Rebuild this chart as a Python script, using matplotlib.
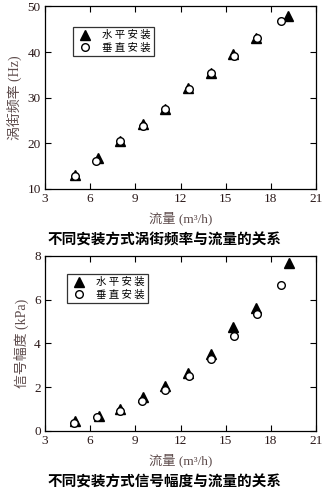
import matplotlib
matplotlib.use("Agg")
import matplotlib.pyplot as plt

plt.rcParams['font.family'] = ['Liberation Serif', 'Noto Sans CJK SC']

# serif for latin text, CJK glyphs fall through to Noto
MIXED = ['Liberation Serif', 'Noto Sans CJK SC']
CJK = ['Noto Sans CJK SC', 'Liberation Serif']
LABEL_COLOR = '#5e4c4c'

# vortex frequency vs flow rate
flow_h_freq = [5.0, 6.55, 8.0, 9.5, 11.0, 12.5, 14.0, 15.5, 17.0, 19.15]
freq_h = [13.0, 16.7, 20.5, 24.3, 27.6, 32.0, 35.3, 39.6, 43.0, 48.0]
flow_v_freq = [5.0, 6.4, 8.0, 9.5, 11.0, 12.55, 14.05, 15.55, 17.05, 18.65]
freq_v = [12.8, 16.2, 20.4, 23.8, 27.4, 31.8, 35.3, 39.1, 43.0, 46.9]

# signal amplitude vs flow rate
flow_h_amp = [5.0, 6.6, 8.0, 9.5, 11.0, 12.5, 14.0, 15.5, 17.0, 19.2]
amp_h = [0.45, 0.69, 1.02, 1.57, 2.05, 2.64, 3.50, 4.76, 5.60, 7.66]
flow_v_amp = [4.95, 6.45, 8.0, 9.45, 10.95, 12.55, 14.05, 15.55, 17.05, 18.7]
amp_v = [0.38, 0.63, 0.93, 1.37, 1.89, 2.49, 3.27, 4.34, 5.34, 6.67]

x_ticks = [3, 6, 9, 12, 15, 18, 21]
legend_labels = ['水 平 安 装', '垂 直 安 装']

fig = plt.figure(figsize=(3.3, 4.93), dpi=100)
ax1 = fig.add_axes([0.136, 0.617, 0.822, 0.370])
ax2 = fig.add_axes([0.136, 0.126, 0.822, 0.355])


def style_axis(ax, ylim, yticks, ylabel):
    ax.set_xlim(3, 21)
    ax.set_ylim(*ylim)
    ax.set_xticks(x_ticks)
    ax.set_yticks(yticks)
    ax.tick_params(direction='in', length=4, width=0.8, top=True, right=True,
                   labelsize=9.5, pad=3, colors='black', labelcolor='#2a1818')
    for s in ax.spines.values():
        s.set_linewidth(0.9)
    ax.set_xlabel('流量 (m³/h)', family=MIXED, fontsize=9.5,
                  color=LABEL_COLOR, labelpad=5)
    ax.set_ylabel(ylabel, family=MIXED, fontsize=10, color=LABEL_COLOR,
                  labelpad=4)


def draw_series(ax, xh, yh, xv, yv, anchor):
    ax.plot(xh, yh, linestyle='none', marker='^', markersize=6.5,
            color='black', label=legend_labels[0])
    ax.plot(xv, yv, linestyle='none', marker='o', markersize=5.5,
            markerfacecolor='white', markeredgecolor='black',
            markeredgewidth=1.0, label=legend_labels[1])
    leg = ax.legend(loc='upper left', bbox_to_anchor=anchor,
                    prop={'family': CJK, 'size': 7.5}, frameon=True,
                    fancybox=False, edgecolor='black', handletextpad=0.7,
                    handlelength=1.8, borderpad=0.3, labelspacing=0.25,
                    borderaxespad=0)
    leg.get_frame().set_linewidth(0.9)


draw_series(ax1, flow_h_freq, freq_h, flow_v_freq, freq_v, (0.103, 0.888))
style_axis(ax1, (10, 50), [10, 20, 30, 40, 50], '涡街频率 (Hz)')

draw_series(ax2, flow_h_amp, amp_h, flow_v_amp, amp_v, (0.081, 0.897))
style_axis(ax2, (0, 8), [0, 2, 4, 6, 8], '信号幅度 (kPa)')

fig.text(0.5, 1 - 240 / 493, '不同安装方式涡街频率与流量的关系', family=CJK,
         fontsize=10.5, fontweight='bold', ha='center', va='center')
fig.text(0.5, 1 - 482 / 493, '不同安装方式信号幅度与流量的关系', family=CJK,
         fontsize=10.5, fontweight='bold', ha='center', va='center')

fig.savefig('out.png', dpi=100)
